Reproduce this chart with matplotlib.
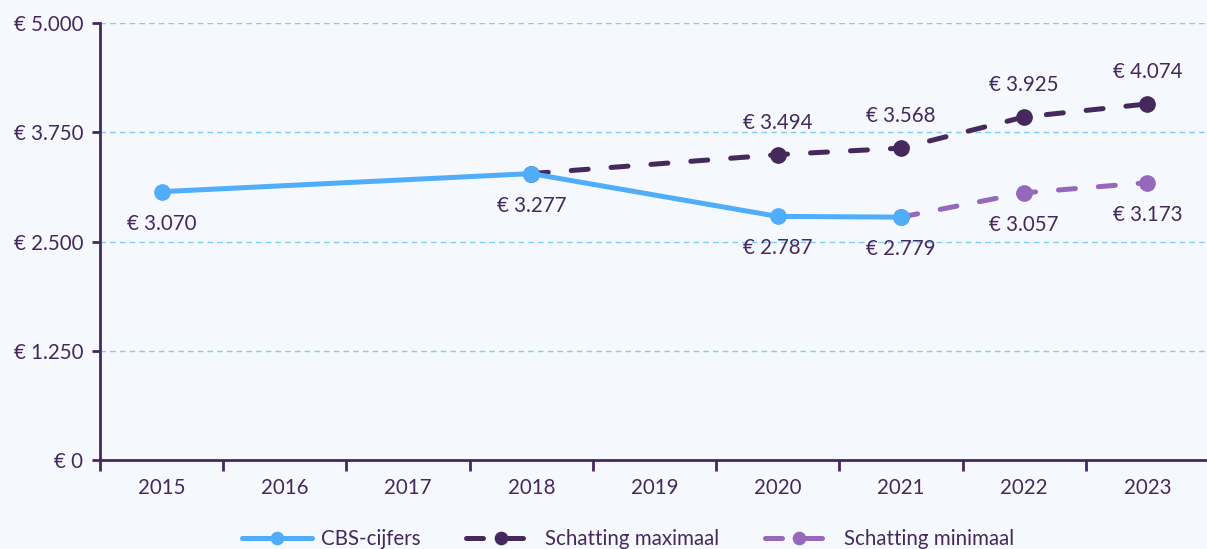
import matplotlib
matplotlib.use("Agg")
import matplotlib.pyplot as plt
import numpy as np

years = ["2015", "2016", "2017", "2018", "2019", "2020", "2021", "2022", "2023"]
cbs = [3070, None, None, 3277, None, 2787, 2779, None, None]
max_est = [None, None, None, 3277, None, 3494, 3568, 3925, 4074]
min_est = [None, None, None, None, None, None, 2779, 3057, 3173]
yticks = [0, 1250, 2500, 3750, 5000]

TXT = "#45295c"
BG = "#f5f8fd"
C_CBS = "#50adfa"
C_MAX = "#45295c"
C_MIN = "#9568bc"
GRID = "#7fcdf5"

plt.rcParams['font.family'] = ['Lato', 'DejaVu Sans']

fig = plt.figure(figsize=(12.07, 5.49), dpi=100, facecolor=BG)
ax = fig.add_axes([100/1207, 1-460/549, 1109/1207, 437/549])
ax.set_facecolor(BG)

def fmt(v):
    s = f"{v:,}".replace(",", ".")
    return f"€ {s}"

def series(vals):
    xs = [i for i, v in enumerate(vals) if v is not None]
    ys = [v for v in vals if v is not None]
    return np.array(xs), np.array(ys)

lw = 3.6
ms = 11
xm, ym = series(max_est)
ax.plot(xm, ym, color=C_MAX, lw=lw, dashes=(3.4, 4.6), dash_capstyle='round',
        marker='o', ms=ms, label="Schatting maximaal", zorder=3)
xn, yn = series(min_est)
ax.plot(xn, yn, color=C_MIN, lw=lw, dashes=(3.4, 4.6), dash_capstyle='round',
        marker='o', ms=ms, label="Schatting minimaal", zorder=3)
xc, yc = series(cbs)
ax.plot(xc, yc, color=C_CBS, lw=lw, solid_capstyle='round', marker='o', ms=ms,
        label="CBS-cijfers", zorder=4)

fs = 14.8
for x, y in zip(xc, yc):
    ax.annotate(fmt(int(y)), (x, y), xytext=(0, -23), textcoords='offset points',
                ha='center', va='center', fontsize=fs, color=TXT, zorder=5)
for x, y in zip(xm, ym):
    if max_est[x] == cbs[x]:
        continue
    ax.annotate(fmt(int(y)), (x, y), xytext=(0, 23), textcoords='offset points',
                ha='center', va='center', fontsize=fs, color=TXT, zorder=5)
for x, y in zip(xn, yn):
    if min_est[x] == cbs[x]:
        continue
    ax.annotate(fmt(int(y)), (x, y), xytext=(0, -23), textcoords='offset points',
                ha='center', va='center', fontsize=fs, color=TXT, zorder=5)

ax.set_xlim(-0.5, len(years) - 0.5)
ax.set_ylim(0, 5000)
ax.set_yticks(yticks)
ax.set_yticklabels([fmt(v) for v in yticks])
ax.set_xticks(range(len(years)))
ax.set_xticklabels(years)
ax.set_xticks(np.arange(-0.5, len(years), 1.0), minor=True)
ax.tick_params(axis='x', which='major', length=0, pad=13, labelsize=fs, labelcolor=TXT)
ax.tick_params(axis='x', which='minor', length=8, width=2, color=TXT)
ax.tick_params(axis='y', which='major', length=6, width=2, color=TXT, pad=6,
               labelsize=fs, labelcolor=TXT)

for v in yticks[1:]:
    ax.axhline(v, color=GRID, lw=1, ls=(0, (4, 3)), zorder=1)

for s in ['top', 'right']:
    ax.spines[s].set_visible(False)
for s in ['left', 'bottom']:
    ax.spines[s].set_color(TXT)
    ax.spines[s].set_linewidth(2)
    ax.spines[s].set_zorder(2)

h, l = ax.get_legend_handles_labels()
order = [2, 0, 1]
leg = fig.legend([h[i] for i in order], [l[i] for i in order], loc='center',
                 bbox_to_anchor=(628/1207, 1-539/549), ncol=3, frameon=False,
                 fontsize=fs, handlelength=3.4, columnspacing=2.2, handletextpad=0.45,
                 markerscale=0.8, labelcolor=TXT)

fig.savefig("out.png", dpi=100, facecolor=BG)
